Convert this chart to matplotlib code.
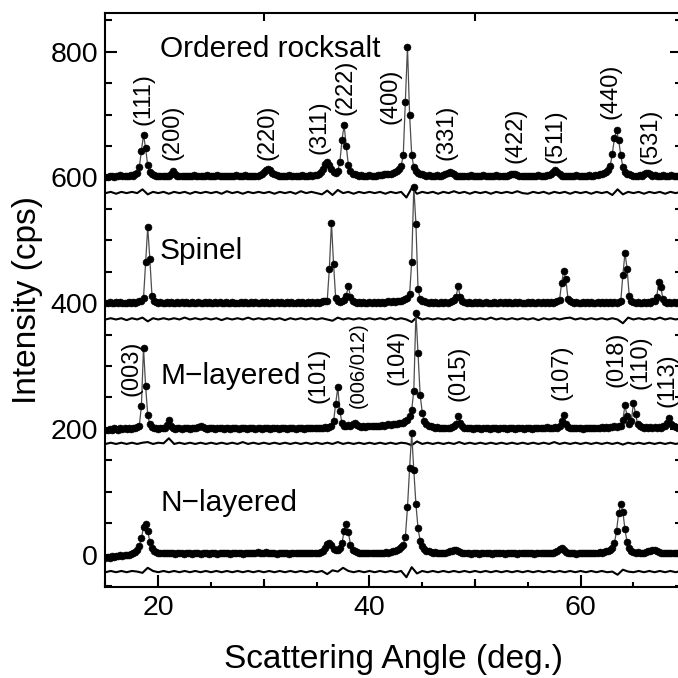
import numpy as np
import matplotlib
matplotlib.use("Agg")
import matplotlib.pyplot as plt
from matplotlib.ticker import MultipleLocator

plt.rcParams["font.family"] = ["Liberation Sans", "DejaVu Sans"]

# observed intensities (cps), one value every 0.2 deg starting at 15.0 deg
rocksalt_obs = [
    600, 601, 603, 602, 601, 603, 602, 604, 603, 602,
    603, 602, 604, 603, 605, 607, 616, 642, 668, 646,
    619, 609, 605, 604, 603, 602, 603, 602, 603, 602,
    603, 606, 610, 606, 603, 602, 603, 602, 603, 602,
    603, 602, 604, 603, 602, 603, 602, 603, 604, 602,
    603, 602, 603, 604, 602, 603, 602, 603, 602, 603,
    602, 603, 604, 603, 602, 603, 604, 603, 602, 603,
    603, 602, 603, 604, 605, 608, 611, 613, 611, 607,
    605, 604, 603, 602, 603, 602, 603, 604, 603, 602,
    603, 602, 603, 604, 603, 602, 603, 604, 603, 604,
    604, 605, 608, 614, 621, 624, 620, 613, 608, 607,
    610, 625, 660, 683, 650, 620, 610, 606, 605, 604,
    603, 604, 603, 602, 603, 604, 603, 602, 603, 604,
    604, 604, 605, 605, 606, 606, 607, 608, 610, 613,
    618, 635, 720, 808, 700, 636, 616, 610, 607, 606,
    605, 604, 603, 604, 603, 602, 603, 604, 603, 602,
    604, 605, 607, 609, 607, 605, 603, 602, 603, 602,
    603, 602, 603, 604, 603, 602, 603, 602, 603, 604,
    603, 602, 603, 602, 603, 604, 603, 602, 603, 602,
    603, 604, 605, 606, 605, 604, 603, 602, 603, 602,
    603, 602, 603, 602, 603, 604, 603, 602, 603, 604,
    604, 605, 609, 612, 609, 605, 603, 602, 603, 602,
    603, 602, 603, 604, 603, 602, 603, 602, 603, 604,
    603, 603, 604, 604, 605, 606, 607, 609, 612, 618,
    638, 662, 675, 660, 635, 617, 609, 606, 605, 604,
    603, 602, 603, 604, 603, 605, 607, 607, 605, 603,
    604, 603, 602, 603, 604, 603, 602, 603, 604, 603,
    602, 603, 602,
]
spinel_obs = [
    400, 401, 402, 401, 400, 402, 401, 402, 401, 400,
    401, 402, 401, 402, 401, 402, 403, 404, 408, 465,
    521, 470, 412, 404, 402, 401, 402, 401, 400, 402,
    401, 402, 401, 400, 402, 401, 402, 401, 402, 400,
    401, 402, 400, 401, 402, 401, 400, 402, 401, 402,
    401, 400, 402, 401, 402, 400, 401, 402, 401, 400,
    402, 401, 400, 401, 402, 401, 402, 400, 401, 402,
    401, 402, 401, 400, 402, 401, 402, 401, 400, 402,
    401, 402, 401, 402, 400, 401, 402, 401, 402, 401,
    400, 402, 401, 402, 401, 400, 402, 401, 402, 401,
    402, 401, 402, 403, 403, 404, 455, 528, 462, 408,
    403, 402, 403, 405, 412, 427, 410, 403, 402, 401,
    402, 401, 402, 401, 400, 402, 401, 402, 401, 402,
    401, 402, 401, 402, 403, 402, 403, 402, 403, 404,
    404, 405, 406, 408, 414, 466, 585, 526, 423, 407,
    404, 403, 402, 401, 402, 401, 402, 401, 400, 402,
    401, 402, 401, 402, 403, 405, 410, 427, 409, 403,
    402, 401, 402, 401, 400, 402, 401, 402, 401, 400,
    402, 401, 400, 401, 402, 401, 400, 402, 401, 402,
    401, 402, 401, 400, 402, 401, 402, 401, 400, 401,
    402, 401, 402, 401, 400, 402, 401, 402, 401, 402,
    401, 402, 401, 402, 403, 405, 432, 451, 438, 407,
    403, 402, 401, 402, 401, 400, 402, 401, 402, 401,
    402, 401, 400, 402, 401, 402, 401, 402, 401, 402,
    401, 402, 401, 402, 403, 445, 480, 455, 412, 404,
    402, 401, 402, 401, 400, 402, 401, 402, 401, 403,
    404, 410, 433, 425, 406, 402, 401, 402, 401, 402,
    401, 402, 401,
]
m_layered_obs = [
    198, 199, 200, 199, 201, 200, 199, 201, 200, 201,
    200, 201, 200, 202, 201, 203, 205, 236, 329, 268,
    222, 207, 203, 202, 201, 200, 202, 201, 201, 206,
    214, 205, 201, 200, 202, 201, 200, 201, 202, 201,
    200, 201, 202, 201, 203, 204, 203, 201, 200, 201,
    202, 201, 200, 201, 202, 201, 200, 202, 201, 200,
    201, 202, 201, 200, 201, 202, 201, 200, 201, 202,
    201, 200, 202, 201, 200, 201, 202, 201, 200, 201,
    202, 201, 200, 201, 202, 201, 200, 201, 202, 201,
    200, 201, 202, 201, 200, 202, 201, 202, 201, 202,
    201, 202, 201, 202, 203, 202, 203, 205, 212, 240,
    266, 228, 209, 205, 204, 206, 205, 207, 210, 206,
    204, 203, 204, 203, 204, 205, 204, 205, 204, 205,
    205, 206, 205, 206, 207, 206, 207, 208, 207, 209,
    209, 210, 212, 214, 220, 230, 261, 385, 321, 254,
    226, 212, 207, 205, 204, 203, 202, 203, 202, 201,
    202, 201, 202, 201, 203, 204, 208, 220, 209, 204,
    202, 201, 202, 201, 200, 201, 202, 201, 200, 201,
    202, 201, 200, 201, 202, 201, 200, 201, 202, 201,
    200, 201, 202, 201, 200, 201, 202, 201, 200, 201,
    202, 201, 200, 201, 202, 201, 202, 201, 202, 203,
    202, 201, 202, 203, 202, 204, 212, 222, 208, 203,
    202, 201, 202, 201, 202, 201, 200, 201, 202, 201,
    202, 201, 202, 201, 202, 203, 202, 203, 202, 203,
    203, 204, 203, 204, 205, 214, 238, 220, 207, 212,
    241, 224, 207, 204, 203, 202, 203, 202, 203, 202,
    203, 202, 203, 202, 204, 205, 210, 217, 208, 204,
    203, 202, 203,
]
n_layered_obs = [
    -5, -4, -5, -3, -4, -2, -3, -1, -2, 0,
    -1, 0, 1, 2, 4, 7, 13, 26, 44, 49,
    38, 20, 10, 6, 4, 3, 2, 3, 2, 3,
    2, 3, 2, 1, 2, 3, 2, 1, 2, 3,
    2, 1, 2, 3, 2, 1, 2, 3, 2, 1,
    2, 3, 2, 1, 2, 3, 2, 3, 2, 1,
    2, 3, 2, 3, 2, 1, 2, 3, 2, 3,
    2, 3, 4, 3, 2, 3, 4, 3, 2, 3,
    2, 1, 2, 3, 2, 3, 2, 1, 2, 3,
    2, 3, 2, 3, 2, 3, 2, 3, 2, 3,
    2, 3, 4, 6, 11, 17, 19, 15, 9, 8,
    8, 10, 18, 38, 49, 36, 16, 8, 5, 4,
    3, 2, 3, 2, 3, 2, 3, 2, 3, 2,
    3, 2, 3, 4, 3, 4, 5, 6, 7, 9,
    12, 16, 28, 75, 137, 193, 134, 80, 42, 22,
    13, 9, 6, 5, 4, 3, 4, 3, 2, 3,
    2, 3, 4, 5, 6, 7, 8, 6, 4, 3,
    2, 3, 2, 1, 2, 3, 2, 1, 2, 3,
    2, 3, 2, 1, 2, 3, 2, 3, 2, 1,
    2, 3, 2, 3, 2, 1, 2, 3, 2, 3,
    2, 3, 2, 1, 2, 3, 2, 3, 2, 3,
    2, 3, 3, 4, 6, 9, 11, 7, 4, 3,
    2, 3, 2, 1, 2, 3, 2, 3, 2, 3,
    2, 3, 2, 3, 4, 3, 4, 5, 6, 7,
    10, 18, 38, 66, 80, 68, 40, 20, 10, 6,
    4, 3, 4, 3, 2, 3, 4, 5, 6, 7,
    8, 6, 4, 3, 2, 3, 2, 3, 2, 3,
    2, 3, 2,
]

# difference curves (shifted below each pattern), one value every 0.5 deg from 15.0 deg
rocksalt_diff = [
    575, 577, 574, 577, 575, 577, 575, 581, 573, 577,
    575, 577, 574, 577, 575, 577, 574, 577, 575, 577,
    575, 577, 574, 578, 575, 577, 574, 577, 575, 577,
    575, 577, 574, 577, 575, 577, 574, 578, 575, 577,
    575, 573, 579, 572, 580, 575, 577, 574, 577, 575,
    577, 575, 577, 574, 577, 575, 577, 568, 583, 574,
    577, 575, 577, 574, 577, 575, 578, 575, 577, 574,
    577, 575, 577, 574, 577, 575, 577, 575, 578, 575,
    574, 577, 575, 577, 574, 577, 575, 577, 574, 577,
    575, 577, 574, 577, 575, 577, 572, 581, 573, 577,
    575, 577, 574, 577, 575, 577, 574, 577, 575, 577,
]
spinel_diff = [
    374, 376, 374, 376, 373, 376, 374, 377, 371, 376,
    374, 376, 374, 376, 374, 377, 374, 376, 374, 376,
    374, 376, 373, 376, 374, 376, 374, 377, 374, 376,
    374, 376, 374, 376, 373, 376, 374, 376, 374, 376,
    374, 376, 374, 372, 377, 374, 376, 374, 376, 374,
    376, 374, 376, 374, 377, 374, 376, 374, 370, 378,
    374, 376, 374, 376, 374, 376, 373, 376, 374, 376,
    374, 376, 374, 377, 374, 376, 374, 376, 374, 376,
    374, 376, 373, 376, 374, 376, 374, 376, 377, 374,
    376, 374, 376, 374, 376, 374, 376, 374, 368, 377,
    374, 376, 374, 376, 374, 377, 374, 376, 374, 376,
]
m_layered_diff = [
    176, 178, 176, 178, 176, 178, 176, 178, 179, 176,
    178, 177, 185, 176, 178, 176, 178, 176, 178, 176,
    178, 176, 178, 176, 178, 176, 179, 176, 178, 176,
    178, 176, 178, 176, 178, 176, 178, 176, 178, 176,
    178, 176, 178, 176, 179, 176, 178, 176, 178, 176,
    178, 176, 178, 176, 178, 176, 178, 177, 174, 180,
    176, 178, 176, 178, 176, 178, 176, 179, 176, 178,
    176, 178, 176, 178, 176, 178, 176, 178, 176, 178,
    176, 178, 176, 178, 176, 179, 176, 178, 176, 178,
    176, 178, 176, 178, 176, 178, 176, 178, 175, 178,
    176, 178, 176, 178, 176, 178, 176, 178, 176, 178,
]
n_layered_diff = [
    -28, -26, -28, -26, -28, -26, -27, -29, -21, -26,
    -28, -26, -28, -26, -28, -26, -28, -26, -28, -26,
    -28, -26, -28, -26, -28, -26, -28, -26, -28, -26,
    -28, -26, -28, -26, -28, -26, -28, -26, -28, -26,
    -28, -26, -31, -25, -27, -21, -26, -28, -26, -28,
    -26, -28, -26, -28, -26, -28, -26, -36, -20, -30,
    -26, -28, -26, -28, -26, -28, -26, -28, -26, -28,
    -26, -28, -26, -28, -26, -28, -26, -28, -26, -28,
    -26, -28, -26, -28, -26, -28, -26, -28, -26, -28,
    -26, -28, -26, -28, -26, -28, -27, -32, -24, -27,
    -28, -26, -28, -26, -28, -26, -28, -26, -28, -26,
]

pattern_names = ["Ordered rocksalt", "Spinel", "M\u2212layered", "N\u2212layered"]
name_y = [792, 470, 272, 70]

rocksalt_hkl = ["(111)", "(200)", "(220)", "(311)", "(222)", "(400)",
                "(331)", "(422)", "(511)", "(440)", "(531)"]
rocksalt_hkl_x = [18.6, 21.3, 30.3, 35.3, 37.7, 42.0, 47.3, 53.8, 57.6, 62.8, 66.6]
rocksalt_hkl_y = [725, 672, 672, 680, 743, 729, 671, 667, 665, 737, 666]

layered_hkl = ["(003)", "(101)", "(006/012)", "(104)", "(015)", "(107)",
               "(018)", "(110)", "(113)"]
layered_hkl_x = [17.5, 35.2, 38.9, 42.7, 48.4, 58.2, 63.4, 65.7, 68.2]
layered_hkl_y = [297, 285, 302, 314, 289, 290, 310, 306, 278]

fig = plt.figure(figsize=(6.78, 6.78), dpi=100)
ax = fig.add_axes([0.1556, 0.1347, 0.8503, 0.8466])

obs_sets = [rocksalt_obs, spinel_obs, m_layered_obs, n_layered_obs]
diff_sets = [rocksalt_diff, spinel_diff, m_layered_diff, n_layered_diff]
for obs, diff in zip(obs_sets, diff_sets):
    tt = 15 + 0.2 * np.arange(len(obs))
    tt_diff = 15 + 0.5 * np.arange(len(diff))
    ax.plot(tt_diff, diff, color="k", lw=1.5)
    ax.plot(tt, obs, color="0.3", lw=0.9)
    ax.plot(tt, obs, "o", color="k", ms=5.0, mew=0.4)

for name, y in zip(pattern_names, name_y):
    ax.text(20.17, y, name, fontsize=21.5, ha="left", va="baseline")

for lab, x, y in zip(rocksalt_hkl, rocksalt_hkl_x, rocksalt_hkl_y):
    ax.text(x, y, lab, fontsize=17, rotation=90, ha="center", va="center")
for lab, x, y in zip(layered_hkl, layered_hkl_x, layered_hkl_y):
    size = 14.5 if "/" in lab else 17
    ax.text(x, y, lab, fontsize=size, rotation=90, ha="center", va="center")

ax.set_xlim(15, 69.6)
ax.set_ylim(-51, 862)
ax.set_xticks([20, 40, 60])
ax.xaxis.set_minor_locator(MultipleLocator(5))
ax.set_yticks([0, 200, 400, 600, 800])
ax.yaxis.set_minor_locator(MultipleLocator(50))
ax.tick_params(axis="both", which="both", direction="in", top=True, right=True,
               width=1.5, labelsize=20.5)
ax.tick_params(axis="y", which="major", length=8.6, pad=5.4)
ax.tick_params(axis="y", which="minor", length=4.8)
ax.tick_params(axis="x", which="major", length=8.6, pad=6)
ax.tick_params(axis="x", which="minor", length=3.6)
for s in ax.spines.values():
    s.set_linewidth(1.5)

# medium-length ticks at 30 and 50 deg
ax_mid = ax.twiny()
ax_mid.set_xlim(ax.get_xlim())
ax_mid.set_xticks([30, 50])
ax_mid.tick_params(axis="x", which="major", direction="in", length=5.8, width=1.5,
                   top=True, bottom=True, labeltop=False, labelbottom=False)
for s in ax_mid.spines.values():
    s.set_visible(False)

fig.text(393.7 / 678, 1 - 668 / 678, "Scattering Angle (deg.)", fontsize=24,
         ha="center", va="baseline")
fig.text(28 / 678, 1 - 300 / 678, "Intensity (cps)", fontsize=24,
         rotation=90, ha="center", va="center")

fig.savefig("out.png", dpi=100)
